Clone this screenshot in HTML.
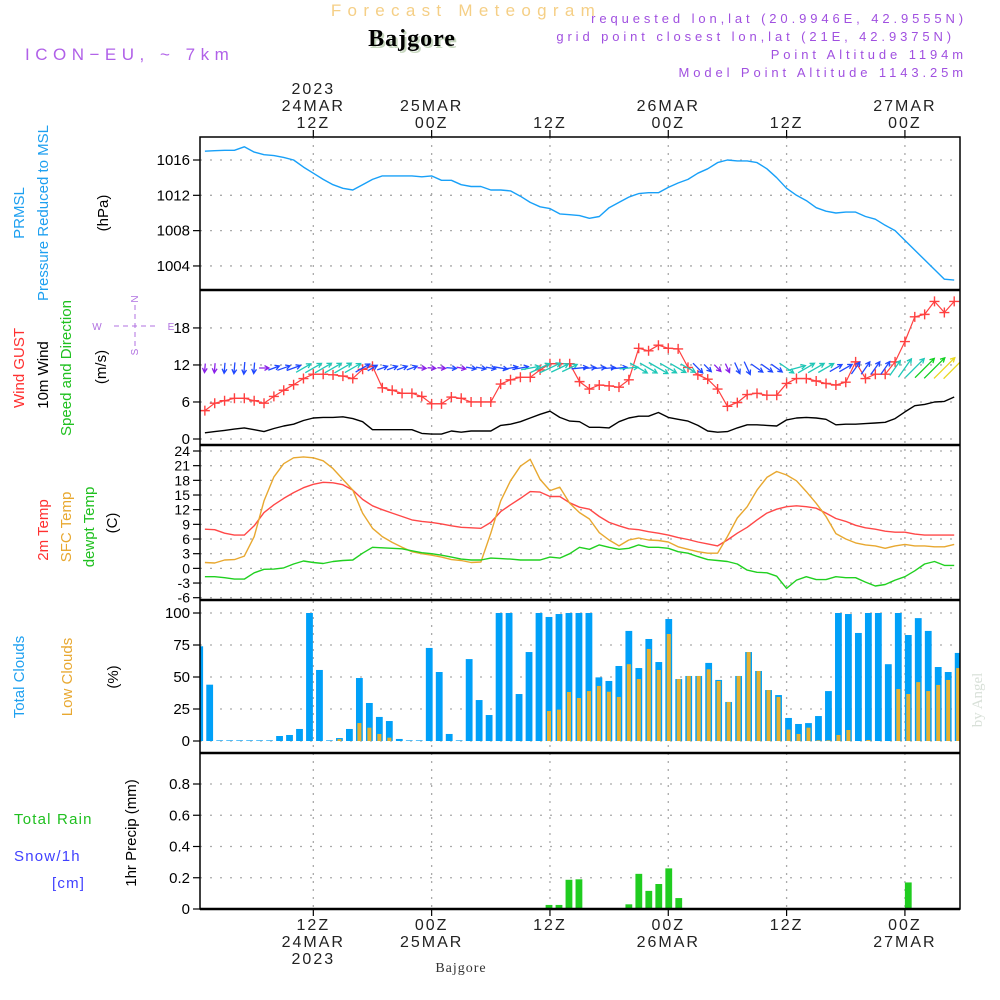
<!DOCTYPE html>
<html><head><meta charset="utf-8"><style>
html,body{margin:0;padding:0;background:#fff;}
svg{display:block;font-family:"Liberation Sans",sans-serif;}
</style></head><body>
<svg id="chart" width="1000" height="1000" viewBox="0 0 1000 1000" xmlns="http://www.w3.org/2000/svg">
<rect x="0" y="0" width="1000" height="1000" fill="#fff"/>
<g>
<text x="466" y="16" text-anchor="middle" font-size="17" letter-spacing="6.3" fill="#f5cf86">Forecast Meteogram</text>
<text x="414" y="48" text-anchor="middle" font-size="24" font-weight="bold" font-family="Liberation Serif, serif" fill="#c8d8c0" letter-spacing="1">Bajgore</text>
<text x="412" y="46" text-anchor="middle" font-size="24" font-weight="bold" font-family="Liberation Serif, serif" fill="#000" letter-spacing="1">Bajgore</text>
<text x="25" y="60" font-size="17" letter-spacing="5.5" fill="#b060e8">ICON−EU, ~ 7km</text>
<g font-size="13" fill="#a050e0" letter-spacing="3.9" text-anchor="end">
<text x="967" y="23">requested lon,lat (20.9946E, 42.9555N)</text>
<text x="955" y="41">grid point closest lon,lat (21E, 42.9375N)</text>
<text x="967" y="59">Point Altitude 1194m</text>
<text x="967" y="77">Model Point Altitude 1143.25m</text>
</g>
</g>
<g font-size="15">
<text transform="translate(24,213) rotate(-90)" text-anchor="middle" fill="#1ea0f0">PRMSL</text>
<text transform="translate(48,213) rotate(-90)" text-anchor="middle" fill="#1ea0f0">Pressure Reduced to MSL</text>
<text transform="translate(108,213) rotate(-90)" text-anchor="middle" fill="#000">(hPa)</text>
<text transform="translate(24,368) rotate(-90)" text-anchor="middle" fill="#ff3030">Wind GUST</text>
<text transform="translate(48,375) rotate(-90)" text-anchor="middle" fill="#000">10m Wind</text>
<text transform="translate(71,368) rotate(-90)" text-anchor="middle" fill="#20c020">Speed and Direction</text>
<text transform="translate(106,367) rotate(-90)" text-anchor="middle" fill="#000">(m/s)</text>
<g fill="#b070e0" stroke="#b070e0" font-size="10">
<text x="138" y="299" transform="rotate(-90,138,299)" text-anchor="middle" stroke="none">N</text>
<text x="138" y="352" transform="rotate(-90,138,352)" text-anchor="middle" stroke="none">S</text>
<text x="97" y="330" text-anchor="middle" stroke="none">W</text>
<text x="171" y="330" text-anchor="middle" stroke="none">E</text>
<line x1="114" y1="326" x2="156" y2="326" stroke-dasharray="5,4" stroke-width="1"/>
<line x1="135" y1="305" x2="135" y2="347" stroke-dasharray="5,4" stroke-width="1"/>
</g>
<text transform="translate(48,530) rotate(-90)" text-anchor="middle" fill="#ff3030">2m Temp</text>
<text transform="translate(71,527) rotate(-90)" text-anchor="middle" fill="#e8a830">SFC Temp</text>
<text transform="translate(94,527) rotate(-90)" text-anchor="middle" fill="#20c020">dewpt Temp</text>
<text transform="translate(117,523) rotate(-90)" text-anchor="middle" fill="#000">(C)</text>
<text transform="translate(24,677) rotate(-90)" text-anchor="middle" fill="#1ea0f0">Total Clouds</text>
<text transform="translate(72,677) rotate(-90)" text-anchor="middle" fill="#e8a830">Low Clouds</text>
<text transform="translate(118,677) rotate(-90)" text-anchor="middle" fill="#000">(%)</text>
<text x="14" y="824" fill="#20c020" letter-spacing="1.2" font-size="15">Total  Rain</text>
<text x="14" y="861" fill="#4040ff" letter-spacing="1.2" font-size="15">Snow/1h</text>
<text x="52" y="888" fill="#4040ff" letter-spacing="1.2" font-size="15">[cm]</text>
<text transform="translate(136,833) rotate(-90)" text-anchor="middle" fill="#000">1hr Precip (mm)</text>
<text transform="translate(982,700) rotate(-90)" text-anchor="middle" fill="#d8e0d8" font-family="Liberation Serif, serif" font-size="15">by Angel</text>
<text x="461" y="972" text-anchor="middle" font-family="Liberation Serif, serif" font-size="14" fill="#333" letter-spacing="1">Bajgore</text>
</g>
<g id="grid"></g>
<g id="marks"></g>
<g id="frame"></g>
</svg>
<script>
const pressure = [1017.0,1017.05,1017.1,1017.1,1017.5,1016.9,1016.6,1016.5,1016.3,1016.0,1015.2,1014.5,1013.8,1013.2,1012.8,1012.6,1013.2,1013.8,1014.2,1014.2,1014.2,1014.2,1014.1,1014.2,1013.7,1013.7,1013.2,1013.0,1013.0,1012.6,1012.6,1012.5,1011.9,1011.2,1010.7,1010.5,1009.9,1009.8,1009.7,1009.4,1009.6,1010.6,1011.2,1011.8,1012.2,1012.3,1012.3,1012.9,1013.4,1013.8,1014.5,1015.0,1015.7,1016.0,1015.9,1015.9,1015.7,1015.0,1014.0,1012.8,1012.0,1011.4,1010.6,1010.2,1010.0,1010.1,1010.1,1009.6,1009.3,1008.6,1008.0,1006.9,1005.8,1004.7,1003.6,1002.5,1002.4];
const gust = [4.6,5.8,6.2,6.6,6.6,6.2,5.8,6.9,7.9,8.8,9.8,10.5,10.5,10.4,10.2,9.8,11.3,11.8,8.3,7.9,7.4,7.4,6.9,5.7,5.7,6.8,6.6,6.0,6.0,6.0,8.9,9.6,10.0,10.0,11.2,12.2,12.2,12.2,9.3,8.1,8.75,8.6,8.4,9.6,14.7,14.3,15.2,14.7,14.6,11.6,10.4,9.7,8.1,5.3,5.9,7.2,7.4,7.1,7.1,9.0,9.8,9.8,9.4,9.0,8.75,9.2,12.5,9.8,10.5,10.5,12.5,15.8,19.8,20.2,22.3,20.5,22.3];
const wind10 = [1.0,1.2,1.4,1.6,1.8,1.5,1.2,1.7,2.1,2.4,3.0,3.4,3.5,3.5,3.6,3.3,2.8,1.5,1.5,1.5,1.5,1.5,0.9,0.8,0.8,1.3,1.1,1.3,1.3,1.3,2.2,2.4,2.8,3.4,4.0,4.5,3.5,2.9,2.8,1.9,1.9,1.8,2.8,3.4,3.7,3.7,4.3,3.5,3.2,2.9,2.2,1.3,1.1,1.2,1.8,2.3,2.3,2.2,2.1,3.1,3.4,3.5,3.4,3.2,2.3,2.4,2.4,2.5,2.6,2.7,3.3,4.4,5.4,5.6,6.0,6.1,6.8];
const windDir = [-95,-95,-95,-95,-95,-95,0,20,20,20,30,30,30,30,30,30,30,30,20,20,20,20,-5,-5,-5,-5,-10,-10,-10,-10,-10,10,10,10,25,25,25,25,5,5,5,5,5,5,-30,-30,-30,-30,-30,-30,-45,-45,-45,-65,-65,-65,-35,-35,-35,-35,15,30,30,30,30,30,55,55,55,55,55,55,45,45,45,45,45];
const t2m = [8.0,7.9,7.2,6.8,6.8,8.7,11.4,13.0,14.3,15.5,16.5,17.2,17.6,17.5,17.1,16.0,14.1,12.8,12.0,11.3,10.6,9.9,9.6,9.4,9.1,8.7,8.4,8.3,8.2,9.4,11.6,13.0,14.3,15.7,15.6,14.7,14.7,13.4,12.5,12.1,10.6,9.4,8.7,8.1,7.9,7.5,7.2,6.8,6.3,5.9,5.4,5.0,4.6,5.8,7.2,8.4,9.9,11.3,12.1,12.6,12.8,12.6,12.3,11.3,10.2,9.6,8.8,8.3,8.0,7.6,7.4,7.4,7.0,6.8,6.8,6.8,6.8];
const tsfc = [1.2,1.1,1.7,1.8,2.5,6.5,13.8,18.7,21.4,22.6,22.8,22.6,22.0,20.4,18.2,16.0,11.3,8.2,6.5,5.3,4.3,3.4,3.0,2.7,2.3,1.8,1.6,1.2,1.3,7.2,13.8,17.9,20.9,22.3,18.2,15.9,16.6,13.3,11.4,10.1,7.3,5.8,4.6,5.8,6.2,5.8,5.7,5.4,4.4,3.9,3.4,3.1,3.1,6.5,10.3,12.6,16.0,18.6,19.8,19.1,17.9,15.7,13.3,10.6,7.1,6.0,5.2,4.8,4.6,4.1,4.6,4.9,4.6,4.6,4.4,4.4,4.9];
const dewpt = [-1.7,-1.7,-1.9,-2.2,-2.2,-0.9,-0.2,-0.15,0.1,0.9,1.5,1.2,1.0,1.4,1.6,1.7,3.1,4.3,4.2,4.1,4.0,3.6,3.2,3.0,2.7,2.3,1.9,1.7,1.7,2.1,2.0,1.9,1.7,1.7,1.7,2.3,2.1,3.0,4.3,3.9,4.8,4.3,3.9,4.1,4.8,4.3,4.3,4.1,3.4,3.1,2.4,1.8,1.6,1.4,0.9,-0.35,-0.8,-0.9,-1.6,-4.1,-2.4,-1.7,-2.3,-2.3,-1.7,-1.9,-1.9,-2.8,-3.6,-3.3,-2.4,-1.7,-0.5,0.9,1.4,0.6,0.6];
const totalClouds = [74,44,0.5,0.5,0.5,0.5,0.5,0.5,3.9,4.7,9.4,100,55.5,0.5,2.3,9.4,49.2,29.7,18.8,15.6,1.6,0.5,0.5,72.7,53.9,5.5,0.5,64,32,20.3,100,100,36.7,69.5,100,96.9,99.2,100,100,100,49.7,46.9,58.6,86,57,79.7,61.7,95.3,48.4,50.8,50.8,61,47.7,30.5,50.8,69.5,54.7,39.8,35.9,18,13.3,14,19.5,39,100,99.2,84.4,100,100,60,100,82.8,96,86,57.8,53.9,68.8];
const lowClouds = [0,0,0,0,0,0,0,0,0,0,0,0,0,0,1.5,0,14,10.4,5.5,2.6,0,0,0,0,0,0,0,0,0,0,0,0,0,0,0,23.4,24.5,38.3,33.6,39,43,38.5,34.4,60,48.4,71.9,55.5,83.6,48.4,50.8,50.8,56,46.9,30.5,50.8,69.5,54.7,39.8,34.4,8.9,5.5,10.4,0.5,0.5,4.7,8.6,0,0.8,0,0,40.6,36.7,46,39,43.8,47.7,57];
const precip = [0,0,0,0,0,0,0,0,0,0,0,0,0,0,0,0,0,0,0,0,0,0,0,0,0,0,0,0,0,0,0,0,0,0,0,0.026,0.026,0.187,0.19,0,0,0,0,0.03,0.225,0.116,0.16,0.26,0.07,0,0,0,0,0,0,0,0,0,0,0,0,0,0,0,0,0,0,0,0,0,0,0.17,0,0,0,0,0];
const pressureTicks = [1004,1008,1012,1016];
const windTicks = [0,6,12,18];
const tempTicks = [24,21,18,15,12,9,6,3,0,-3,-6];
const cloudTicks = [0,25,50,75,100];
const precipTicks = [0,0.2,0.4,0.6,0.8];
const timeTickHours = [12,24,36,48,60,72];
const topLabels = [["2023","24MAR","12Z"],["","25MAR","00Z"],["","","12Z"],["","26MAR","00Z"],["","","12Z"],["","27MAR","00Z"]];
const bottomLabels = [["12Z","24MAR","2023"],["00Z","25MAR",""],["12Z","",""],["00Z","26MAR",""],["12Z","",""],["00Z","27MAR",""]];

const NS = "http://www.w3.org/2000/svg";
const X0 = 200, X1 = 960;
const xH = h => 195.0 + 9.86 * h;
const xB = i => 199.7 + 9.98 * i;
const yP = v => 160 + (1016 - v) * 8.83;
const yW = v => 439 - v * 6.17;
const yT = v => 451 + (24 - v) * 4.89;
const yC = v => 741 - v * 1.28;
const yR = v => 909 - v * 156.25;

const grid = document.getElementById('grid');
const marks = document.getElementById('marks');
const frame = document.getElementById('frame');
function mk(tag, attrs, parent) {
  const e = document.createElementNS(NS, tag);
  for (const k in attrs) e.setAttribute(k, attrs[k]);
  parent.appendChild(e);
  return e;
}

function yAxis(ticks, fy, fmt, name, fs) {
  ticks.forEach(t => {
    const y = fy(t);
    const g = mk('line', {x1: X0, x2: X1, y1: y, y2: y, stroke: '#aaa', 'stroke-width': 1.3, 'stroke-dasharray': '2,8'}, grid);
    
    
    const tk = mk('line', {x1: X0 - 7, x2: X0, y1: y, y2: y, stroke: '#000', 'stroke-width': 1.2}, frame);
    
    
    const lb = mk('text', {x: X0 - 10, y: y + 5, 'text-anchor': 'end', 'font-size': fs, fill: '#000'}, frame);
    lb.textContent = fmt(t);
    
    
  });
}
yAxis(pressureTicks, yP, t => String(t), 'pressure', 15);
yAxis(windTicks, yW, t => String(t), 'wind', 15);
yAxis(tempTicks, yT, t => String(t), 'temp', 14);
yAxis(cloudTicks, yC, t => String(t), 'cloud', 15);
yAxis(precipTicks, yR, t => t === 0 ? '0' : t.toFixed(1), 'precip', 15);

timeTickHours.forEach((h, k) => {
  const x = xH(h);
  const v = mk('line', {x1: x, x2: x, y1: 137, y2: 909, stroke: '#aaa', 'stroke-width': 1.3, 'stroke-dasharray': '2,6'}, grid);
  
  
  const t1 = mk('line', {x1: x, x2: x, y1: 130, y2: 137, stroke: '#000', 'stroke-width': 1.2}, frame);
  
  
  const t2 = mk('line', {x1: x, x2: x, y1: 909, y2: 916, stroke: '#000', 'stroke-width': 1.2}, frame);
  
  
  topLabels[k].forEach((s, j) => {
    if (!s) return;
    const t = mk('text', {x: x, y: 94 + j * 17, 'text-anchor': 'middle', 'font-size': 16, fill: '#222', 'letter-spacing': 2}, frame);
    t.textContent = s;
    
    
  });
  bottomLabels[k].forEach((s, j) => {
    if (!s) return;
    const t = mk('text', {x: x, y: 930 + j * 17, 'text-anchor': 'middle', 'font-size': 16, fill: '#222', 'letter-spacing': 2}, frame);
    t.textContent = s;
    
    
  });
});

const defs = mk('defs', {}, marks);
const cp = mk('clipPath', {id: 'plotclip'}, defs);
mk('rect', {x: X0, y: 137, width: X1 - X0, height: 772}, cp);
const plot = mk('g', {'clip-path': 'url(#plotclip)'}, marks);



function line(arr, fy, color, name, w) {
  const pts = arr.map((v, i) => xH(i + 1).toFixed(1) + ',' + fy(v).toFixed(1)).join(' ');
  const p = mk('polyline', {points: pts, fill: 'none', stroke: color, 'stroke-width': w || 1.4, 'stroke-linejoin': 'round'}, plot);
  
  
}

totalClouds.forEach((v, i) => {
  const c = xB(i), y = yC(v);
  const r = mk('rect', {x: c - 3.4, y: y, width: 6.8, height: 741 - y, fill: '#00a0f8'}, plot);
  
  
});
lowClouds.forEach((v, i) => {
  if (v <= 0) return;
  const c = xB(i), y = yC(v);
  const r = mk('rect', {x: c - 2, y: y, width: 4, height: 741 - y, fill: '#e6b030'}, plot);
  
  
});
precip.forEach((v, i) => {
  if (v <= 0) return;
  const c = xB(i), y = yR(v);
  const r = mk('rect', {x: c - 3.4, y: y, width: 6.8, height: 909 - y, fill: '#20cc20'}, plot);
  
  
});

line(pressure, yP, '#18a0f8', 'pressure-line', 1.4);
line(wind10, yW, '#000', 'wind10-line', 1.4);
line(gust, yW, '#ff4040', 'gust-line', 1.2);
line(t2m, yT, '#ff4848', 't2m-line', 1.4);
line(tsfc, yT, '#e8a830', 'tsfc-line', 1.4);
line(dewpt, yT, '#20d020', 'dewpt-line', 1.4);

gust.forEach((v, i) => {
  const x = xH(i + 1), y = yW(v);
  const p = mk('path', {d: `M${x-5},${y}H${x+5}M${x},${y-5}V${y+5}`, stroke: '#ff4040', 'stroke-width': 1.4}, plot);
  
  
});

function windColor(s) {
  if (s < 1.3) return '#8a20e8';
  if (s < 2.9) return '#2048ff';
  if (s < 5.5) return '#20c8b8';
  if (s < 6.05) return '#10d020';
  return '#e8d820';
}
wind10.forEach((s, i) => {
  const a = windDir[i] * Math.PI / 180;
  const L = Math.min(5 + 4 * s, 30);
  const cx = xH(i + 1), cy = yW(11.5);
  const dx = Math.cos(a) * L / 2, dy = -Math.sin(a) * L / 2;
  const x1 = cx - dx, y1 = cy - dy, x2 = cx + dx, y2 = cy + dy;
  const hl = 5, ha = 0.5;
  const b = Math.atan2(y2 - y1, x2 - x1);
  const hx1 = x2 - hl * Math.cos(b - ha), hy1 = y2 - hl * Math.sin(b - ha);
  const hx2 = x2 - hl * Math.cos(b + ha), hy2 = y2 - hl * Math.sin(b + ha);
  const p = mk('path', {d: `M${x1.toFixed(1)},${y1.toFixed(1)}L${x2.toFixed(1)},${y2.toFixed(1)}M${hx1.toFixed(1)},${hy1.toFixed(1)}L${x2.toFixed(1)},${y2.toFixed(1)}L${hx2.toFixed(1)},${hy2.toFixed(1)}`, stroke: windColor(s), 'stroke-width': 1.3, fill: 'none'}, plot);
  
  
});

const fr = mk('rect', {x: X0, y: 137, width: X1 - X0, height: 772, fill: 'none', stroke: '#000', 'stroke-width': 1.5}, frame);


[290, 445, 600, 753].forEach(y => {
  const s = mk('line', {x1: X0, x2: X1, y1: y, y2: y, stroke: '#000', 'stroke-width': 2.5}, frame);
  
  
});
const bl = mk('line', {x1: X0, x2: X1, y1: 909, y2: 909, stroke: '#000', 'stroke-width': 2.5}, frame);


</script>
</body></html>
